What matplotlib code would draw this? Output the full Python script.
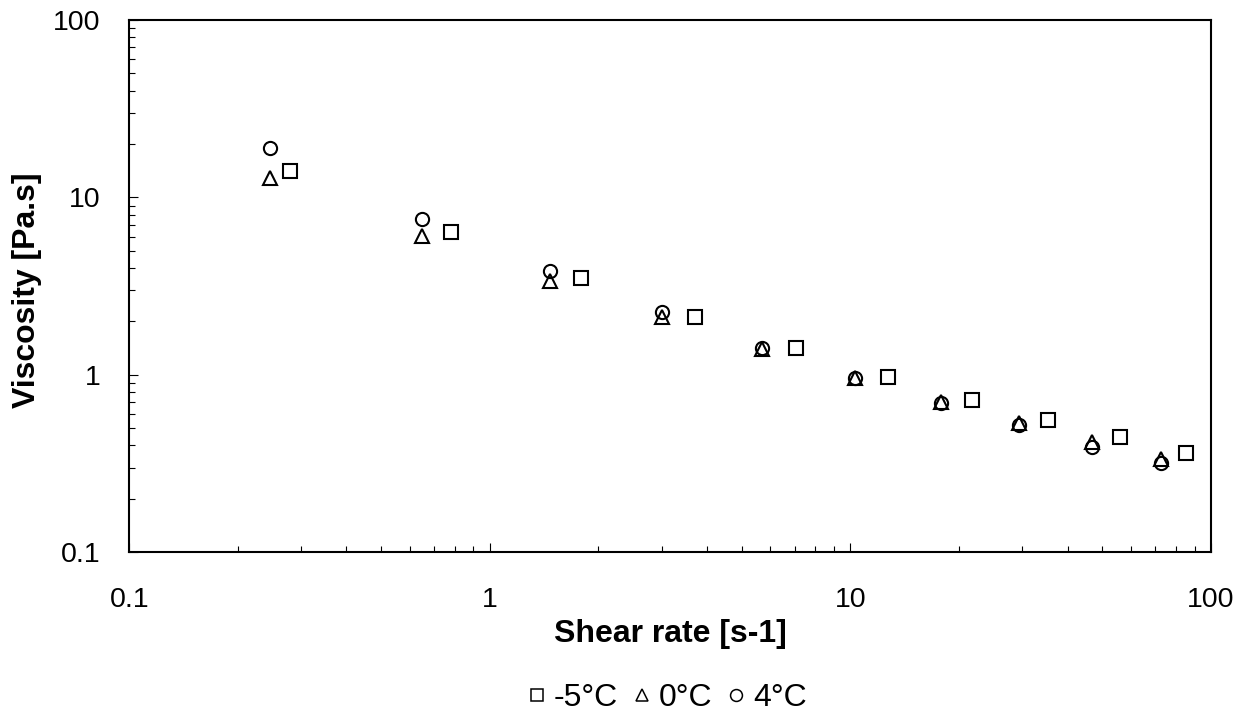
import matplotlib
matplotlib.use("Agg")
import matplotlib.pyplot as plt
from matplotlib.ticker import LogLocator, NullFormatter, FixedLocator, FixedFormatter

plt.rcParams['font.family'] = ['Liberation Sans', 'DejaVu Sans']

# Data
shear_m5 = [0.279, 0.779, 1.79, 3.71, 7.06, 12.7, 21.7, 35.4, 55.9, 85.1]
visc_m5 = [14.15, 6.41, 3.50, 2.13, 1.41, 0.976, 0.722, 0.557, 0.445, 0.364]

shear_0 = [0.245, 0.647, 1.47, 3.00, 5.70, 10.3, 17.8, 29.4, 46.7, 72.6]
visc_0 = [12.8, 6.06, 3.39, 2.12, 1.39, 0.96, 0.70, 0.538, 0.420, 0.334]

shear_4 = [0.245, 0.647, 1.47, 3.00, 5.70, 10.3, 17.8, 29.4, 46.7, 72.6]
visc_4 = [18.9, 7.53, 3.86, 2.25, 1.41, 0.964, 0.697, 0.522, 0.391, 0.320]

labels = ['-5°C', '0°C', '4°C']
tick_vals = [0.1, 1, 10, 100]
tick_labels = ['0.1', '1', '10', '100']

fig = plt.figure(figsize=(12.47, 7.15), dpi=100)
ax = fig.add_axes([129.3/1247, 1-552.3/715, (1211-129.3)/1247, (552.3-20)/715])

mk = dict(linestyle='none', markerfacecolor='none', markeredgecolor='black',
          markeredgewidth=1.5, markersize=9.5)
ax.plot(shear_m5, visc_m5, marker='s', label=labels[0], **mk)
ax.plot(shear_0, visc_0, marker='^', label=labels[1], **mk)
ax.plot(shear_4, visc_4, marker='o', label=labels[2], **mk)

ax.set_xscale('log')
ax.set_yscale('log')
ax.set_xlim(0.1, 100)
ax.set_ylim(0.1, 100)

for a in (ax.xaxis, ax.yaxis):
    a.set_major_locator(FixedLocator(tick_vals))
    a.set_major_formatter(FixedFormatter(tick_labels))
    a.set_minor_locator(LogLocator(base=10, subs=range(2, 10)))
    a.set_minor_formatter(NullFormatter())

ax.tick_params(which='both', direction='in', top=False, right=False, color='black')
ax.tick_params(which='major', length=6.5, width=0.8, labelsize=20.5)
ax.tick_params(which='minor', length=4.5, width=0.8)
ax.tick_params(axis='x', which='major', pad=25)
ax.tick_params(axis='y', which='major', pad=21)

for s in ax.spines.values():
    s.set_linewidth(1.5)

ax.set_xlabel('Shear rate [s-1]', fontsize=23, fontweight='bold')
ax.set_ylabel('Viscosity [Pa.s]', fontsize=23, fontweight='bold')
ax.xaxis.set_label_coords(0.5, 1 - (634 - 20) / (552.3 - 20), transform=ax.transAxes)
ax.xaxis.label.set_verticalalignment('center')
ax.yaxis.set_label_coords((27 - 129.3) / (1211 - 129.3), 1 - (290 - 20) / (552.3 - 20), transform=ax.transAxes)
ax.yaxis.label.set_verticalalignment('center')

leg = fig.legend(loc='center', bbox_to_anchor=(668/1247, 1 - 698/715), ncol=3, frameon=False,
                 fontsize=23, markerscale=0.9, handlelength=0.5, handletextpad=0.28,
                 columnspacing=0.5, borderpad=0)
for h in leg.legend_handles:
    h.set_markeredgewidth(1.1)

fig.savefig('out.png', dpi=100)
